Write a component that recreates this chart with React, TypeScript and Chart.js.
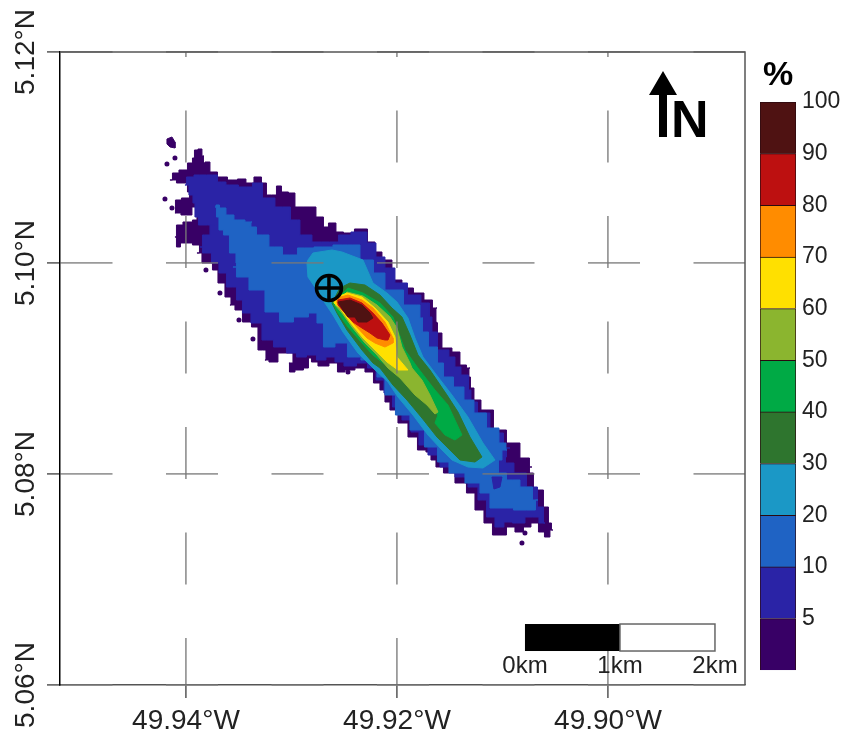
import React, { useEffect, useRef } from "react";
import { Chart, registerables } from "chart.js";

Chart.register(...registerables);

// Axis values
const lonTicks = [-49.94, -49.92, -49.9];
const latTicks = [5.06, 5.08, 5.1, 5.12];
const LON_MIN = -49.95194;
const LON_MAX = -49.88701;
const LAT_MIN = 5.06;
const LAT_MAX = 5.12;

// Contour outlines are read off the picture as grid cells (col east, row south)
// from 49.92W 5.10N. One cell is about 10.5 m.
const CELL_DEG = 0.00009479;
const ORIGIN_LON = -49.92;
const ORIGIN_LAT = 5.1;

type P = [number, number];

const level0: P[] = [[-214,-93],[-205,-100],[-204,-105],[-201,-113],[-197,-114],[-193,-107],[-194,-100],[-190,-101],[-184,-91],[-175,-86],[-164,-83],[-155,-84],[-147,-80],[-139,-86],[-132,-80],[-129,-68],[-122,-68],[-119,-77],[-112,-71],[-105,-70],[-99,-56],[-87,-56],[-75,-46],[-72,-36],[-65,-40],[-57,-31],[-50,-30],[-35,-34],[-24,-21],[-20,-11],[-10,-3],[0,17],[10,25],[23,30],[31,37],[40,45],[38,59],[41,60],[40,70],[50,85],[60,89],[66,102],[73,105],[71,114],[76,125],[78,137],[90,147],[103,167],[116,180],[130,195],[135,204],[130,210],[143,227],[150,244],[153,260],[156,267],[150,274],[145,269],[138,260],[130,264],[123,269],[113,264],[106,272],[100,272],[91,260],[83,247],[73,230],[66,220],[50,210],[43,204],[35,197],[33,189],[25,187],[16,174],[6,160],[-4,147],[-10,139],[-14,127],[-20,120],[-27,109],[-37,105],[-47,107],[-57,109],[-62,100],[-74,103],[-84,99],[-87,95],[-90,105],[-97,107],[-107,109],[-108,100],[-100,90],[-114,90],[-124,99],[-132,97],[-130,87],[-139,87],[-139,64],[-152,59],[-157,47],[-167,42],[-165,34],[-179,20],[-179,7],[-190,0],[-200,-10],[-195,-18],[-214,-20],[-219,-16],[-222,-26],[-219,-38],[-209,-41],[-200,-43],[-200,-56],[-210,-48],[-222,-50],[-221,-63],[-210,-65],[-205,-71],[-214,-80],[-227,-83],[-222,-90]];
const level0Island: P[] = [[-230,-124],[-225,-126],[-222,-121],[-222,-115],[-227,-116],[-230,-119]];
const level0Specks: P[] = [[-230,-99],[-222,-105],[-232,-64],[-225,-55],[-191,7],[-177,30],[-158,57],[-144,76],[-49,109],[125,280],[128,270]];
const level1: P[] = [[-209,-86],[-197,-88],[-184,-88],[-175,-81],[-167,-78],[-150,-76],[-139,-80],[-130,-65],[-114,-56],[-99,-43],[-95,-28],[-75,-21],[-60,-21],[-57,-28],[-35,-31],[-25,-20],[-17,-6],[-7,5],[3,20],[18,32],[30,40],[35,54],[35,69],[46,87],[58,94],[58,104],[70,112],[73,127],[75,139],[86,150],[100,170],[113,185],[106,194],[111,200],[123,210],[136,224],[145,244],[148,260],[136,254],[120,260],[111,259],[103,264],[93,254],[86,237],[76,224],[66,214],[50,204],[36,192],[26,182],[18,169],[10,157],[0,144],[-9,130],[-17,117],[-25,105],[-34,100],[-47,103],[-59,99],[-65,94],[-77,97],[-84,92],[-97,94],[-104,90],[-117,84],[-130,77],[-140,60],[-152,50],[-157,37],[-164,24],[-177,10],[-179,0],[-192,-10],[-197,-16],[-192,-28],[-182,-38],[-197,-38],[-200,-46],[-204,-60],[-204,-68],[-212,-78]];
const level2: P[] = [[-180,-58],[-175,-55],[-167,-48],[-159,-43],[-145,-41],[-147,-36],[-134,-28],[-122,-16],[-107,-8],[-92,-15],[-74,-16],[-54,-18],[-44,-18],[-30,-3],[-17,10],[-7,27],[20,42],[26,55],[25,69],[38,84],[43,100],[50,114],[63,124],[71,137],[83,150],[96,165],[108,180],[110,187],[100,197],[103,210],[116,217],[130,224],[141,237],[136,247],[123,247],[110,245],[98,245],[88,230],[78,220],[58,210],[46,199],[35,184],[20,167],[6,152],[-9,132],[-15,114],[-25,100],[-30,97],[-42,94],[-57,80],[-67,84],[-80,60],[-80,50],[-97,54],[-110,59],[-125,49],[-139,27],[-157,14],[-164,4],[-157,0],[-165,-10],[-170,-28],[-177,-33],[-179,-46],[-182,-56]];
const level2Hole: P[] = [[95,214],[105,214],[103,224],[97,226]];
const level3: P[] = [[-89,-3],[-84,-10],[-65,-13],[-55,-11],[-34,-3],[-24,20],[-10,30],[0,39],[11,55],[18,75],[26,94],[38,110],[55,132],[71,154],[86,180],[98,197],[86,205],[71,204],[55,197],[45,187],[31,172],[16,152],[1,134],[-9,119],[-24,105],[-39,90],[-54,69],[-64,52],[-74,37],[-80,27],[-89,14],[-90,0]];
const level4: P[] = [[-47,20],[-32,22],[-17,32],[-5,45],[5,54],[13,72],[21,92],[33,107],[50,132],[61,149],[73,174],[85,194],[78,199],[63,197],[51,185],[40,174],[25,155],[10,137],[-4,122],[-17,105],[-24,100],[-35,87],[-50,67],[-60,50],[-65,40],[-57,25]];
const level5: P[] = [[-49,25],[-34,30],[-17,40],[-4,54],[8,87],[21,105],[38,127],[51,142],[65,172],[58,177],[48,172],[38,160],[41,152],[26,137],[13,120],[-2,105],[-14,100],[-24,92],[-35,80],[-49,64],[-59,50],[-64,40]];
const level6: P[] = [[-50,29],[-34,33],[-20,42],[-7,54],[0,65],[5,84],[13,100],[15,105],[25,117],[33,132],[41,149],[38,151],[30,142],[18,132],[3,115],[-9,105],[-20,92],[-32,80],[-45,64],[-55,50],[-62,42]];
const level7: P[] = [[-62,35],[-50,30],[-35,34],[-22,45],[-9,59],[-2,74],[0,94],[11,107],[1,107],[-10,99],[-22,87],[-34,75],[-47,59],[-57,45],[-63,40]];
const level8: P[] = [[-60,35],[-49,32],[-35,37],[-24,45],[-12,59],[-4,75],[-4,80],[-12,84],[-22,80],[-30,75],[-42,62],[-52,50],[-60,40]];
const level9: P[] = [[-59,37],[-47,35],[-35,40],[-24,50],[-15,60],[-7,72],[-9,77],[-12,77],[-20,75],[-27,70],[-35,65],[-44,59],[-52,50],[-59,42]];
const level10: P[] = [[-59,39],[-47,37],[-35,42],[-27,50],[-24,55],[-30,59],[-39,59],[-42,54],[-49,54],[-54,47]];

const releasePoint: P = [-68, 25];

// Colour scale
const classColors = ["#380066", "#2a23a6", "#1f63c4", "#1b98c6", "#2e752e", "#00aa45", "#8bb52f", "#ffe000", "#ff8c00", "#bd1010", "#4f1212"];
const classTicks = ["5", "10", "20", "30", "40", "50", "60", "70", "80", "90", "100"];

// Scale bar
const scaleKmLabels = ["0km", "1km", "2km"];
const scaleCols = [128, 223, 318];
const scaleRows = [361, 388];

const FONT = '"Liberation Sans", Arial, sans-serif';
const TEXT = "#222";

const toXY = ([c, r]: P) => ({ x: ORIGIN_LON + c * CELL_DEG, y: ORIGIN_LAT - r * CELL_DEG });
const closed = (pts: P[]) => [...pts, pts[0]].map(toXY);

const poly = (pts: P[], color: string, order: number, stepped: any = false) => ({
  data: closed(pts),
  showLine: true,
  fill: "shape",
  tension: 0,
  stepped,
  backgroundColor: color,
  borderColor: color,
  borderWidth: 1,
  pointRadius: 0,
  order,
});

const decorations = {
  id: "decorations",
  afterDraw(chart: any) {
    const { ctx, chartArea: a, scales } = chart;
    ctx.save();
    // top and right frame edges
    ctx.strokeStyle = "#555";
    ctx.lineWidth = 1.5;
    ctx.beginPath();
    ctx.moveTo(a.left, a.top);
    ctx.lineTo(a.right, a.top);
    ctx.lineTo(a.right, a.bottom);
    ctx.stroke();

    // scale bar
    const px = (c: number) => scales.x.getPixelForValue(ORIGIN_LON + c * CELL_DEG);
    const py = (r: number) => scales.y.getPixelForValue(ORIGIN_LAT - r * CELL_DEG);
    const top = py(scaleRows[0]);
    const h = py(scaleRows[1]) - top;
    ctx.fillStyle = "#000";
    ctx.fillRect(px(scaleCols[0]), top, px(scaleCols[1]) - px(scaleCols[0]), h);
    ctx.fillStyle = "#fff";
    ctx.fillRect(px(scaleCols[1]), top, px(scaleCols[2]) - px(scaleCols[1]), h);
    ctx.strokeStyle = "#666";
    ctx.lineWidth = 1.5;
    ctx.strokeRect(px(scaleCols[1]), top, px(scaleCols[2]) - px(scaleCols[1]), h);
    ctx.fillStyle = TEXT;
    ctx.font = `24px ${FONT}`;
    ctx.textAlign = "center";
    ctx.textBaseline = "middle";
    scaleKmLabels.forEach((t, i) => ctx.fillText(t, px(scaleCols[i]), top + h + 15));

    // north arrow
    ctx.fillStyle = "#000";
    ctx.beginPath();
    ctx.moveTo(663, 71);
    ctx.lineTo(677, 95);
    ctx.lineTo(667, 95);
    ctx.lineTo(667, 137);
    ctx.lineTo(659, 137);
    ctx.lineTo(659, 95);
    ctx.lineTo(649, 95);
    ctx.closePath();
    ctx.fill();
    ctx.font = `bold 52px ${FONT}`;
    ctx.textAlign = "left";
    ctx.textBaseline = "alphabetic";
    ctx.fillText("N", 671, 137);
    // colour bar unit
    ctx.font = `bold 34px ${FONT}`;
    ctx.textAlign = "center";
    ctx.fillText("%", 778, 85);
    ctx.restore();
  },
};

export default function App() {
  const mapRef = useRef<HTMLCanvasElement>(null);
  const barRef = useRef<HTMLCanvasElement>(null);

  useEffect(() => {
    const datasets: any[] = [
      poly(level0, classColors[0], 0, "middle"),
      poly(level0Island, classColors[0], -1),
      {
        data: level0Specks.map(toXY),
        pointRadius: 2.5,
        pointBackgroundColor: classColors[0],
        pointBorderWidth: 0,
        order: -2,
      },
      poly(level1, classColors[1], -3, "middle"),
      poly(level2, classColors[2], -4, "middle"),
      poly(level2Hole, classColors[1], -5),
      poly(level3, classColors[3], -6),
      poly(level4, classColors[4], -7),
      poly(level5, classColors[5], -8),
      poly(level6, classColors[6], -9),
      poly(level7, classColors[7], -10),
      poly(level8, classColors[8], -11),
      poly(level9, classColors[9], -12),
      poly(level10, classColors[10], -13),
      {
        data: [toXY(releasePoint)],
        pointStyle: "circle",
        pointRadius: 12.5,
        pointBackgroundColor: "rgba(0,0,0,0)",
        pointBorderColor: "#000",
        pointBorderWidth: 3.5,
        order: -14,
      },
      {
        data: [toXY(releasePoint)],
        pointStyle: "cross",
        pointRadius: 13,
        pointBorderColor: "#000",
        pointBorderWidth: 3.5,
        order: -15,
      },
    ];

    const gridOpts = { z: 1, color: "rgba(120,120,120,0.75)", lineWidth: 1.8, tickLength: 13, tickColor: "#555", tickWidth: 1.5 };

    const map = new Chart(mapRef.current!, {
      type: "scatter",
      data: { datasets },
      plugins: [decorations],
      options: {
        animation: false,
        responsive: false,
        devicePixelRatio: 1,
        layout: { padding: { left: 0, top: 52, right: 100, bottom: 0 } },
        plugins: { legend: { display: false }, tooltip: { enabled: false } },
        scales: {
          x: {
            type: "linear",
            min: LON_MIN,
            max: LON_MAX,
            afterBuildTicks: (s: any) => {
              s.ticks = lonTicks.map((value) => ({ value }));
            },
            afterFit: (s: any) => {
              s.height = 53;
            },
            grid: gridOpts,
            border: { z: 1, color: "#555", width: 1.5, dash: [52, 53.5], dashOffset: 47 },
            ticks: {
              autoSkip: false,
              maxRotation: 0,
              padding: 6,
              color: TEXT,
              font: { family: FONT, size: 28 },
              callback: (v: any) => `${Math.abs(Number(v)).toFixed(2)}°W`,
            },
          },
          y: {
            type: "linear",
            min: LAT_MIN,
            max: LAT_MAX,
            afterBuildTicks: (s: any) => {
              s.ticks = latTicks.map((value) => ({ value }));
            },
            afterFit: (s: any) => {
              s.width = 60;
            },
            grid: gridOpts,
            border: { z: 1, color: "#000", width: 1.5, dash: [52, 53.5], dashOffset: 0 },
            ticks: {
              autoSkip: false,
              minRotation: 90,
              maxRotation: 90,
              crossAlign: "center",
              padding: -22,
              color: TEXT,
              font: { family: FONT, size: 28 },
              callback: (v: any) => `${Number(v).toFixed(2)}°N`,
            },
          },
        },
      } as any,
    });

    const bar = new Chart(barRef.current!, {
      type: "bar",
      data: {
        labels: [""],
        datasets: classColors.map((c) => ({
          data: [1],
          backgroundColor: c,
          borderColor: "#2a0a10",
          borderWidth: 1,
          barPercentage: 1,
          categoryPercentage: 1,
        })),
      },
      options: {
        animation: false,
        responsive: false,
        devicePixelRatio: 1,
        layout: { padding: { left: 10, top: 22, right: 0, bottom: 17 } },
        plugins: { legend: { display: false }, tooltip: { enabled: false } },
        scales: {
          x: { stacked: true, display: false },
          y: {
            stacked: true,
            position: "right",
            min: 0,
            max: 11,
            afterBuildTicks: (s: any) => {
              s.ticks = classTicks.map((_, i) => ({ value: i + 1 }));
            },
            afterFit: (s: any) => {
              s.width = 49;
            },
            grid: { display: false, drawTicks: false },
            border: { display: false },
            ticks: {
              autoSkip: false,
              padding: 6,
              color: TEXT,
              font: { family: FONT, size: 23 },
              callback: (v: any) => classTicks[Number(v) - 1],
            },
          },
        },
      } as any,
    });

    return () => {
      map.destroy();
      bar.destroy();
    };
  }, []);

  return (
    <div style={{ position: "absolute", left: 0, top: 0, width: 845, height: 738, background: "#fff" }}>
      <canvas ref={mapRef} width={845} height={738} style={{ position: "absolute", left: 0, top: 0, width: 845, height: 738, filter: "blur(0.4px)" }} />
      <canvas ref={barRef} width={95} height={610} style={{ position: "absolute", left: 750, top: 80, width: 95, height: 610, filter: "blur(0.4px)" }} />
    </div>
  );
}
